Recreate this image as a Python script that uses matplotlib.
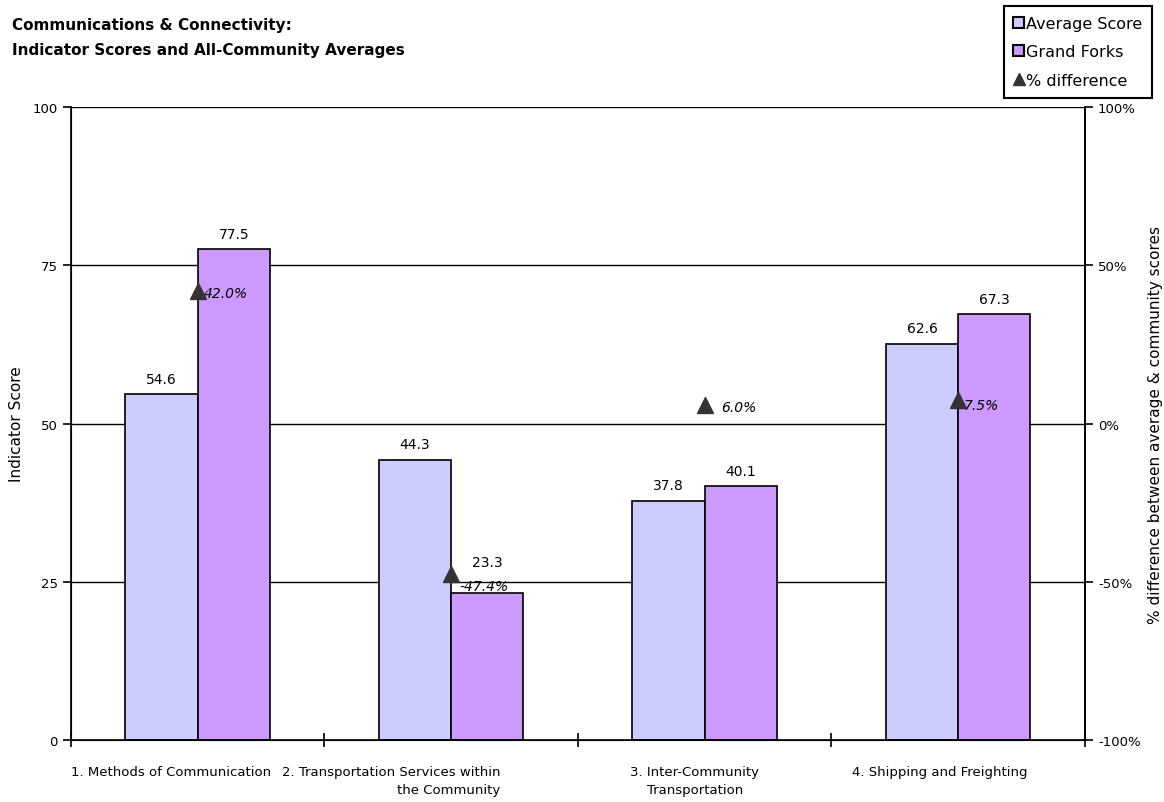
import matplotlib.pyplot as plt
import numpy as np
from matplotlib.patches import Patch
from matplotlib.lines import Line2D

categories = ['1. Methods of Communication', '2. Transportation Services within\nthe Community',
              '3. Inter-Community\nTransportation', '4. Shipping and Freighting']
avg_score = [54.6, 44.3, 37.8, 62.6]
gf_score = [77.5, 23.3, 40.1, 67.3]
pct_diff = [42.0, -47.4, 6.0, 7.5]

# label nudges (points) so the % labels and the small bar label don't collide
pct_offsets = [(4, -2), (6, -9), (12, -2), (4, -4)]
gf_label_offsets = [0, 11, 0, 0]
# horizontal shift of the category labels (pixels) and line alignment
cat_shift = [-27, -60, -10, -18]
cat_align = ['center', 'right', 'center', 'center']

plt.rcParams['font.family'] = 'DejaVu Sans'
plt.rcParams['font.size'] = 9.5

x = np.arange(len(categories))
w = 0.285
px = 72 / 100  # points per pixel at dpi 100

fig = plt.figure(figsize=(11.64, 8.03), dpi=100)
ax = fig.add_axes([0.061, 0.0772, 0.871, 0.7883])

for y in [25, 50, 75, 100]:
    ax.axhline(y, color='black', lw=1, zorder=0)

b1 = ax.bar(x - w / 2, avg_score, w, color='#ccccff', edgecolor='black', lw=1.2, zorder=2)
b2 = ax.bar(x + w / 2, gf_score, w, color='#cc99ff', edgecolor='black', lw=1.2, zorder=2)

for xi, v in zip(x - w / 2, avg_score):
    ax.annotate(f'{v:.1f}', (xi, v), xytext=(0, 6), textcoords='offset points',
                ha='center', va='bottom', fontsize=10)
for xi, v, dy in zip(x + w / 2, gf_score, gf_label_offsets):
    ax.annotate(f'{v:.1f}', (xi, v), xytext=(0, 6 + dy), textcoords='offset points',
                ha='center', va='bottom', fontsize=10)

ax.set_xlim(-0.5, 3.5)
ax.set_ylim(0, 100)
ax.set_yticks([0, 25, 50, 75, 100])
ax.set_xticks(np.arange(-0.5, 4, 1))
ax.set_xticklabels([])
# category names drawn under each group
for xi, name, dx, al in zip(x, categories, cat_shift, cat_align):
    ax.annotate(name, (xi, 0), xytext=(dx * px, -25 * px), textcoords='offset points',
                ha='center', va='top', multialignment=al, fontsize=9.5, linespacing=1.5,
                annotation_clip=False)
ax.tick_params(axis='x', which='major', direction='inout', length=10, width=1.2)
ax.tick_params(axis='y', direction='out', length=6, width=1.2, labelsize=9.5)
for s in ['left', 'right', 'bottom']:
    ax.spines[s].set_linewidth(1.2)
ax.spines['top'].set_visible(False)
ax.set_ylabel('Indicator Score', fontsize=11, labelpad=6)

ax2 = ax.twinx()
ax2.set_ylim(-100, 100)
ax2.set_yticks([-100, -50, 0, 50, 100])
ax2.set_yticklabels(['-100%', '-50%', '0%', '50%', '100%'])
ax2.tick_params(axis='y', direction='out', length=6, width=1.2, labelsize=9.5)
ax2.spines['top'].set_visible(False)
ax2.spines['right'].set_linewidth(1.2)
ax2.plot(x, pct_diff, linestyle='none', marker='^', color='#333333', markersize=11, zorder=5)
for xi, v, off in zip(x, pct_diff, pct_offsets):
    ax2.annotate(f'{v:.1f}%', (xi, v), xytext=off, textcoords='offset points',
                 ha='left', va='center', style='italic', fontsize=10)
ax2.set_ylabel('% difference between average & community scores', fontsize=11, labelpad=5)

fig.text(0.0103, 0.978, 'Communications & Connectivity:\nIndicator Scores and All-Community Averages',
         fontsize=11, fontweight='bold', ha='left', va='top', linespacing=1.85)

handles = [Patch(facecolor='#ccccff', edgecolor='black', lw=1.5),
           Patch(facecolor='#cc99ff', edgecolor='black', lw=1.5),
           Line2D([], [], linestyle='none', marker='^', color='#333333', markersize=9)]
leg = fig.legend(handles, ['Average Score', 'Grand Forks', '% difference'],
                 loc='upper right', bbox_to_anchor=(0.9897, 0.991), fancybox=False,
                 edgecolor='black', framealpha=1, handlelength=0.65, handleheight=0.65,
                 handletextpad=0.15, borderpad=0.6, labelspacing=0.85, fontsize=11.5,
                 borderaxespad=0)
leg.get_frame().set_linewidth(1.5)

fig.savefig('out.png', dpi=100)
